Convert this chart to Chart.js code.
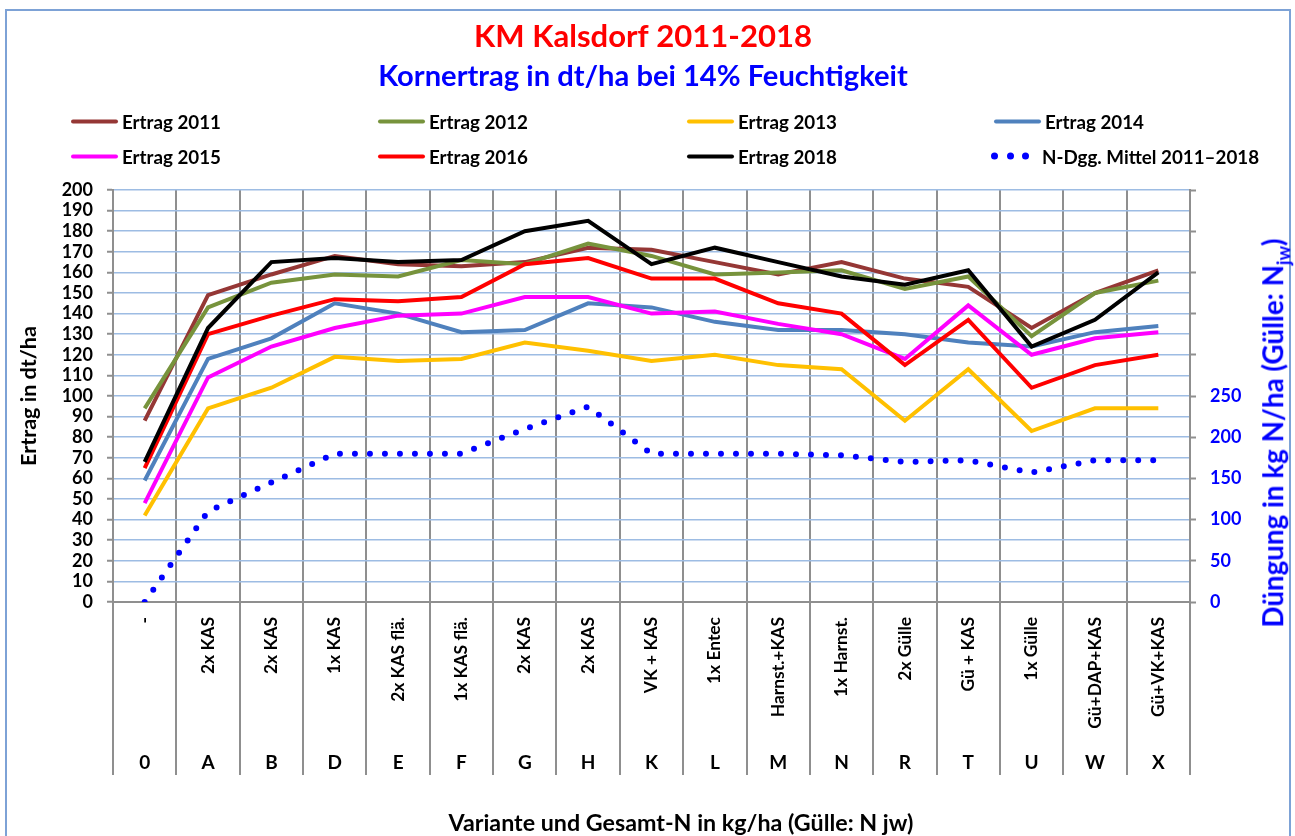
<!DOCTYPE html>
<html><head><meta charset="utf-8">
<script src="https://cdn.jsdelivr.net/npm/chart.js@4.4.1/dist/chart.umd.min.js"></script>
<style>
html,body{margin:0;padding:0;background:#fff;}
#wrap{position:relative;width:1295px;height:836px;overflow:hidden;font-family:Lato,'DejaVu Sans',sans-serif;}
#frame{position:absolute;left:5px;top:9px;width:1286px;height:900px;border:2px solid #7DA2D6;box-sizing:border-box;}
#c{position:absolute;left:0;top:0;}
.lg{position:absolute;display:flex;align-items:center;font-weight:700;color:#000;white-space:nowrap;transform:translateY(-50%);}
.sw{display:inline-block;width:47px;height:4px;margin-right:4px;border-radius:2px;}
.dots{display:inline-flex;width:38px;justify-content:space-between;margin-right:13px;}
.dots span{width:7px;height:7px;border-radius:50%;background:#0000FF;display:inline-block;}
#ytitle2{position:absolute;left:1275px;top:433px;transform:translate(-50%,-50%) rotate(-90deg);font-weight:700;color:#0000FF;white-space:nowrap;}
#ytitle2 sub{font-size:0.65em;}
#xtitle{position:absolute;left:681px;top:822px;transform:translate(-50%,-50%);font-weight:700;color:#000;white-space:nowrap;}
</style>
</head><body>
<div id="wrap">
<div id="frame"></div>
<canvas id="c" width="1295" height="836"></canvas>
<div id="legend"></div>
<div id="ytitle2">Düngung in kg N/ha (Gülle: N<sub>jw</sub>)</div>
<div id="xtitle">Variante und Gesamt-N in kg/ha (Gülle: N jw)</div>
</div>
<script>
const categories = ['-','2x KAS','2x KAS','1x KAS','2x KAS flä.','1x KAS flä.','2x KAS','2x KAS','VK + KAS','1x Entec','Harnst.+KAS','1x Harnst.','2x Gülle','Gü + KAS','1x Gülle','Gü+DAP+KAS','Gü+VK+KAS'];
const variants = ['0','A','B','D','E','F','G','H','K','L','M','N','R','T','U','W','X'];
const ertrag2011 = [88,149,159,168,164,163,165,172,171,165,159,165,157,153,133,150,161];
const ertrag2012 = [94,143,155,159,158,166,164,174,168,159,160,161,152,158,129,150,156];
const ertrag2013 = [42,94,104,119,117,118,126,122,117,120,115,113,88,113,83,94,94];
const ertrag2014 = [59,118,128,145,140,131,132,145,143,136,132,132,130,126,124,131,134];
const ertrag2015 = [48,109,124,133,139,140,148,148,140,141,135,130,118,144,120,128,131];
const ertrag2016 = [65,130,139,147,146,148,164,167,157,157,145,140,115,137,104,115,120];
const ertrag2018 = [68,133,165,167,165,166,180,185,164,172,165,158,154,161,124,137,160];
const nDuengung = [0,110,145,180,180,180,210,237,180,180,180,178,170,172,157,172,172];
const yTicksLeft = {min:0,max:200,step:10};
const yTicksRight = {min:0,max:500,step:50,labelMax:250};

const seriesDefs = [
  {label:'Ertrag 2011', data:ertrag2011, color:'#953735'},
  {label:'Ertrag 2012', data:ertrag2012, color:'#77933C'},
  {label:'Ertrag 2013', data:ertrag2013, color:'#FFC000'},
  {label:'Ertrag 2014', data:ertrag2014, color:'#4F81BD'},
  {label:'Ertrag 2015', data:ertrag2015, color:'#FF00FF'},
  {label:'Ertrag 2016', data:ertrag2016, color:'#FF0000'},
  {label:'Ertrag 2018', data:ertrag2018, color:'#000000'}
];
const n = seriesDefs.length;
const datasets = seriesDefs.map((s,i)=>({
  label:s.label, data:s.data, borderColor:s.color, backgroundColor:s.color,
  borderWidth:4, pointRadius:0, fill:false, tension:0, order:n+1-i, yAxisID:'y'
}));
datasets.push({label:'N-Dgg. Mittel 2011–2018', data:nDuengung, borderColor:'#0000FF', backgroundColor:'#0000FF',
  borderWidth:6, borderDash:[0,15], borderCapStyle:'round', pointRadius:0, fill:false, tension:0, order:0, yAxisID:'y2'});

const F = 'Lato';
const mctx = document.createElement('canvas').getContext('2d');
function fit(text, target){ mctx.font = 'bold 100px '+F; return 100*target/mctx.measureText(text).width; }
const sTitle = fit('KM Kalsdorf 2011-2018', 338);
const sSub = fit('Kornertrag in dt/ha bei 14% Feuchtigkeit', 530);
const sLegend = fit('Ertrag 2011', 99);
const sYTitle = fit('Ertrag in dt/ha', 140);
const sXTitle = fit('Variante und Gesamt-N in kg/ha (Gülle: N jw)', 465);
const sTick = 18;
const sRot = fit('2x KAS', 57);
const sLetter = 19;

const lhT = 1.2*sTitle, lhS = 1.2*sSub, lhY = 1.2*sYTitle, lhL = 1.2*sLetter;
const gray = '#8F8F8F';
new Chart(document.getElementById('c'), {
  type:'line',
  data:{labels:categories, datasets},
  options:{
    responsive:false, animation:false, devicePixelRatio:1,
    layout:{padding:{left:8,right:17,top:0,bottom:0}},
    plugins:{
      legend:{display:false}, tooltip:{enabled:false},
      title:{display:true,text:'KM Kalsdorf 2011-2018',color:'#FF0000',font:{family:F,size:sTitle,weight:'bold'},
        padding:{top:37-lhT/2,bottom:(77-lhS/2)-(37+lhT/2)}},
      subtitle:{display:true,text:'Kornertrag in dt/ha bei 14% Feuchtigkeit',color:'#0000FF',font:{family:F,size:sSub,weight:'bold'},
        padding:{top:0,bottom:190-(77+lhS/2)}}
    },
    scales:{
      x:{type:'category',position:'bottom',offset:true,
        grid:{offset:true,color:gray,lineWidth:2,tickLength:133,tickColor:gray,tickWidth:2},
        border:{display:true,color:gray,width:2},
        ticks:{autoSkip:false,maxRotation:90,minRotation:90,padding:-118,color:'#000',font:{family:F,size:sRot,weight:'bold'}},
        afterFit:(s)=>{s.height=133;}
      },
      x2:{type:'category',position:'bottom',labels:variants,offset:true,
        grid:{offset:true,drawOnChartArea:false,color:gray,lineWidth:2,tickLength:40,tickColor:gray,tickWidth:2},
        border:{display:false},
        ticks:{autoSkip:false,maxRotation:0,minRotation:0,padding:(762.5-lhL/2)-775,color:'#000',font:{family:F,size:sLetter,weight:'bold'}},
        afterFit:(s)=>{s.height=101;}
      },
      y:{type:'linear',position:'left',min:yTicksLeft.min,max:yTicksLeft.max,
        grid:{color:'#9DBCE3',lineWidth:1.5,tickLength:6,tickColor:gray,tickWidth:2},
        border:{display:true,color:gray,width:2},
        ticks:{stepSize:yTicksLeft.step,autoSkip:false,padding:14,color:'#000',font:{family:F,size:sTick,weight:'bold'}},
        title:{display:true,text:'Ertrag in dt/ha',color:'#000',font:{family:F,size:sYTitle,weight:'bold'},padding:{top:29.5-8-lhY/2,bottom:0}},
        afterFit:(s)=>{s.width=105;}
      },
      y2:{type:'linear',position:'right',min:yTicksRight.min,max:yTicksRight.max,
        grid:{drawOnChartArea:false,tickLength:6,tickColor:gray,tickWidth:2},
        border:{display:true,color:gray,width:2},
        ticks:{stepSize:yTicksRight.step,autoSkip:false,padding:14,color:'#0000FF',font:{family:F,size:sTick,weight:'bold'},
          callback:(v)=> v<=yTicksRight.labelMax ? String(v) : ''},
        afterFit:(s)=>{s.width=88;}
      }
    }
  }
});

const legendPos = [
  {x:71,y:121},{x:378,y:121},{x:687,y:121},{x:994,y:121},
  {x:71,y:156},{x:378,y:156},{x:687,y:156},{x:991,y:156}
];
const lg = document.getElementById('legend');
datasets.forEach((d,i)=>{
  const el = document.createElement('div');
  el.className='lg';
  el.style.fontSize = sLegend+'px';
  el.style.left = legendPos[i].x+'px';
  el.style.top = legendPos[i].y+'px';
  if (d.borderDash) {
    el.innerHTML = '<span class="dots"><span></span><span></span><span></span></span>';
  } else {
    el.innerHTML = '<span class="sw" style="background:'+d.borderColor+'"></span>';
  }
  const t = document.createElement('span'); t.textContent = d.label; el.appendChild(t);
  lg.appendChild(el);
});
const xt = document.getElementById('xtitle'); xt.style.fontSize = sXTitle+'px';
const yt2 = document.getElementById('ytitle2');
yt2.style.fontSize = '20px';
yt2.style.fontSize = (20*390/yt2.offsetWidth)+'px';
</script>
</body></html>
